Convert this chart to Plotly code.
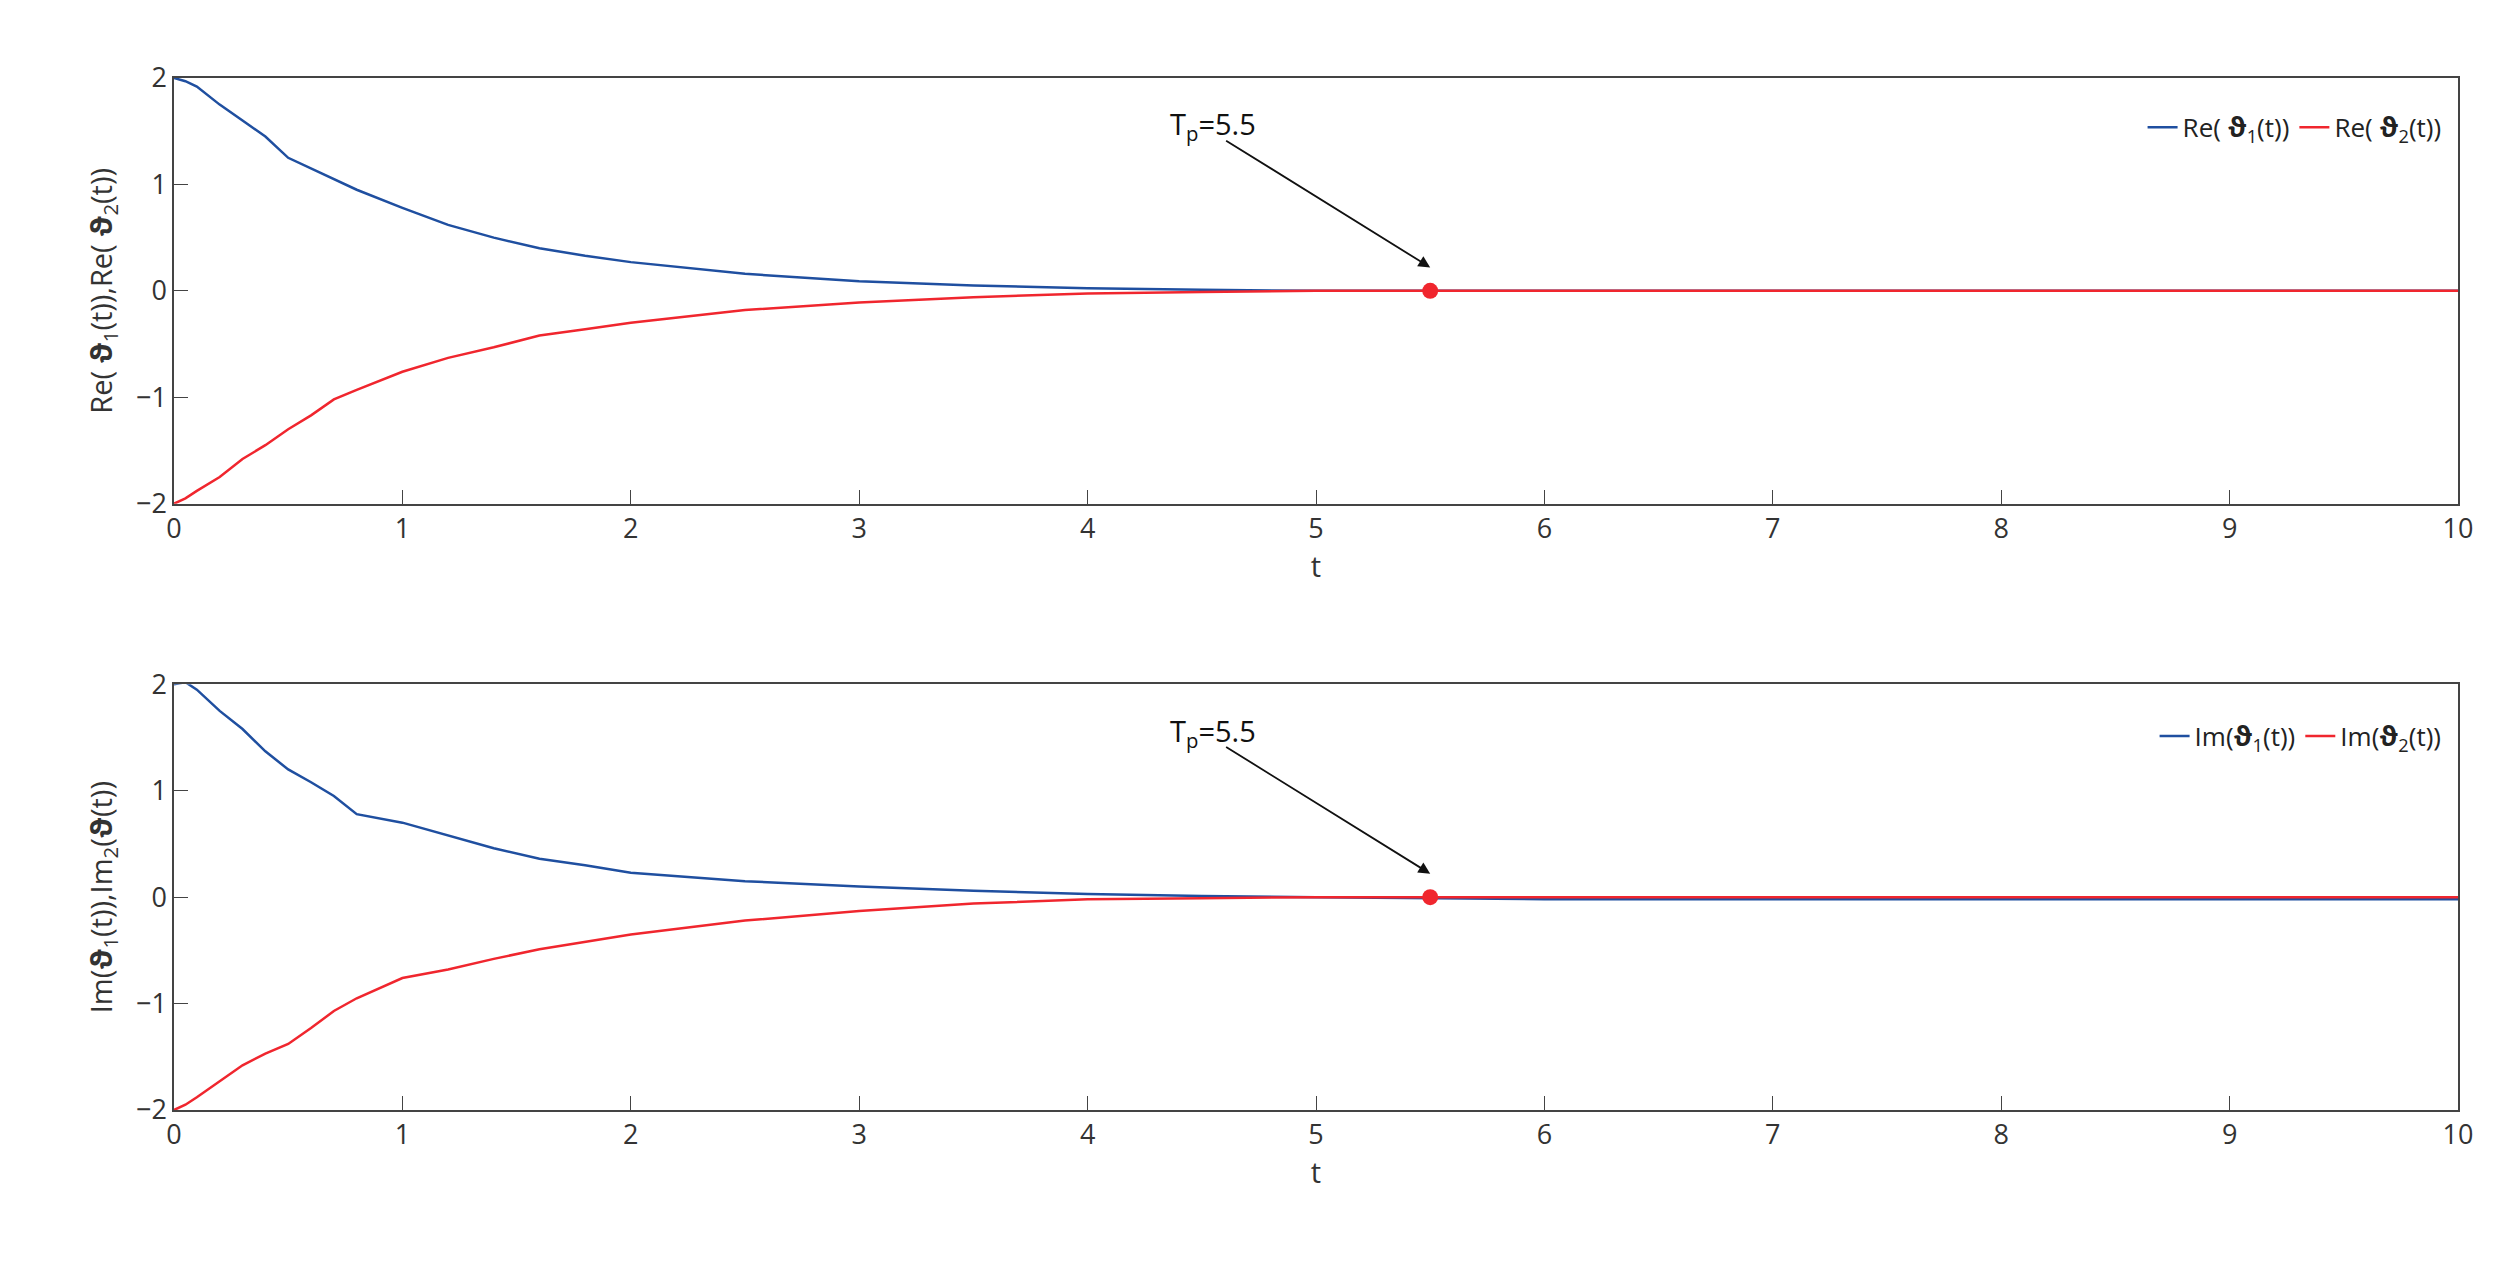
import plotly.graph_objects as go
from plotly.subplots import make_subplots

t1 = [0,0.05,0.1,0.2,0.3,0.4,0.5,0.6,0.7,0.8,1.0,1.2,1.4,1.6,1.8,2.0,2.5,3.0,3.5,4.0,4.5,5.0,5.5,6.0,10]
re1 = [2,1.97,1.92,1.75,1.6,1.45,1.25,1.15,1.05,0.95,0.78,0.62,0.5,0.4,0.33,0.27,0.16,0.09,0.05,0.025,0.01,0.0,0.0,0.0,0.0]
re2 = [-2,-1.95,-1.88,-1.75,-1.58,-1.45,-1.3,-1.17,-1.02,-0.93,-0.76,-0.63,-0.53,-0.42,-0.36,-0.3,-0.18,-0.11,-0.06,-0.025,-0.01,0.0,0.0,0.0,0.0]
im1 = [2,2.02,1.95,1.75,1.58,1.37,1.2,1.08,0.95,0.78,0.7,0.58,0.46,0.36,0.3,0.23,0.15,0.1,0.06,0.03,0.01,0.0,-0.01,-0.02,-0.02]
im2 = [-2,-1.95,-1.88,-1.73,-1.58,-1.47,-1.38,-1.23,-1.07,-0.95,-0.76,-0.68,-0.58,-0.49,-0.42,-0.35,-0.22,-0.13,-0.06,-0.02,-0.01,0.0,0.0,0.0,0.0]
tp = 5.5
xticks = list(range(0, 11))
yticks = [-2, -1, 0, 1, 2]

BLUE = "#1f4fa0"; RED = "#f0262e"
th = "<b>ϑ</b>"
fig = make_subplots(rows=2, cols=1, vertical_spacing=0.175)
fig.add_trace(go.Scatter(x=t1, y=re1, mode="lines", line=dict(color=BLUE, width=2.5), name=f"Re( {th}<sub>1</sub>(t))", legend="legend"), 1, 1)
fig.add_trace(go.Scatter(x=t1, y=re2, mode="lines", line=dict(color=RED, width=2.5), name=f"Re( {th}<sub>2</sub>(t))", legend="legend"), 1, 1)
fig.add_trace(go.Scatter(x=t1, y=im1, mode="lines", line=dict(color=BLUE, width=2.5), name=f"Im({th}<sub>1</sub>(t))", legend="legend2"), 2, 1)
fig.add_trace(go.Scatter(x=t1, y=im2, mode="lines", line=dict(color=RED, width=2.5), name=f"Im({th}<sub>2</sub>(t))", legend="legend2"), 2, 1)
for r in (1, 2):
    fig.add_trace(go.Scatter(x=[tp], y=[0], mode="markers", marker=dict(color=RED, size=16), showlegend=False), r, 1)

ax = dict(showline=True, linecolor="#444", linewidth=1.5, mirror=True, ticks="inside", ticklen=14, tickcolor="#444",
          showgrid=False, zeroline=False, tickfont=dict(size=27, color="#333"))
for r in (1, 2):
    fig.update_xaxes(range=[0, 10], tickvals=xticks, title=dict(text="t", font=dict(size=29, color="#333"), standoff=12), row=r, col=1, **ax)
    fig.update_yaxes(range=[-2, 2], tickvals=yticks, row=r, col=1, **ax)
fig.update_yaxes(title=dict(text=f"Re( {th}<sub>1</sub>(t)),Re( {th}<sub>2</sub>(t))", font=dict(size=29, color="#333")), row=1, col=1)
fig.update_yaxes(title=dict(text=f"Im({th}<sub>1</sub>(t)),Im<sub>2</sub>({th}(t))", font=dict(size=29, color="#333")), row=2, col=1)

for xr, yr in (("x", "y"), ("x2", "y2")):
    fig.add_annotation(x=tp, y=0.22, xref=xr, yref=yr, ax=4.6, ay=1.42, axref=xr, ayref=yr,
                       text="", showarrow=True, arrowhead=2, arrowsize=1.3, arrowwidth=1.8, arrowcolor="#111")
    fig.add_annotation(x=4.55, y=1.55, xref=xr, yref=yr, text="T<sub>p</sub>=5.5", showarrow=False,
                       font=dict(size=29, color="#111"))

lg = dict(orientation="h", xanchor="right", x=0.995, yanchor="top", bgcolor="rgba(0,0,0,0)", font=dict(size=26, color="#222"))
fig.update_layout(width=2493, height=1262, plot_bgcolor="white", paper_bgcolor="white",
                  font=dict(family="Open Sans, Liberation Sans, sans-serif"),
                  margin=dict(l=166, r=43, t=70, b=160),
                  legend=dict(y=0.975, **lg), legend2=dict(y=0.385, **lg))
fig.write_html("out.html")
